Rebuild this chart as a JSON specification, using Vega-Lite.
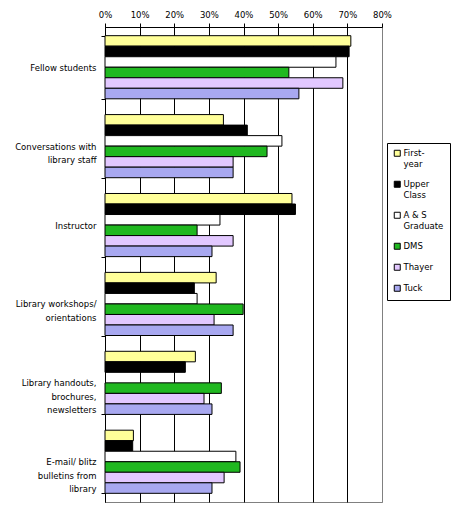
{
  "$schema": "https://vega.github.io/schema/vega-lite/v6.json",
  "width": 277,
  "height": 475,
  "autosize": {"type": "none"},
  "padding": {"left": 105, "top": 27, "right": 72, "bottom": 6},
  "background": "white",
  "config": {
    "view": {"stroke": "#808080", "strokeWidth": 1},
    "font": "DejaVu Sans",
    "axis": {"labelFont": "DejaVu Sans", "labelFontSize": 8.5, "labelColor": "black", "domainColor": "black", "tickColor": "black", "title": null},
    "legend": {"labelFont": "DejaVu Sans", "labelFontSize": 8.5, "labelColor": "black"}
  },
  "data": {
    "values": [
      {"source": "Fellow students", "group": "First-year", "value": 0.71},
      {"source": "Fellow students", "group": "Upper Class", "value": 0.705},
      {"source": "Fellow students", "group": "A & S Graduate", "value": 0.667},
      {"source": "Fellow students", "group": "DMS", "value": 0.531},
      {"source": "Fellow students", "group": "Thayer", "value": 0.687},
      {"source": "Fellow students", "group": "Tuck", "value": 0.56},
      {"source": "Conversations with|library staff", "group": "First-year", "value": 0.342},
      {"source": "Conversations with|library staff", "group": "Upper Class", "value": 0.411},
      {"source": "Conversations with|library staff", "group": "A & S Graduate", "value": 0.511},
      {"source": "Conversations with|library staff", "group": "DMS", "value": 0.468},
      {"source": "Conversations with|library staff", "group": "Thayer", "value": 0.37},
      {"source": "Conversations with|library staff", "group": "Tuck", "value": 0.37},
      {"source": "Instructor", "group": "First-year", "value": 0.54},
      {"source": "Instructor", "group": "Upper Class", "value": 0.55},
      {"source": "Instructor", "group": "A & S Graduate", "value": 0.332},
      {"source": "Instructor", "group": "DMS", "value": 0.266},
      {"source": "Instructor", "group": "Thayer", "value": 0.37},
      {"source": "Instructor", "group": "Tuck", "value": 0.309},
      {"source": "Library workshops/|orientations", "group": "First-year", "value": 0.321},
      {"source": "Library workshops/|orientations", "group": "Upper Class", "value": 0.258},
      {"source": "Library workshops/|orientations", "group": "A & S Graduate", "value": 0.266},
      {"source": "Library workshops/|orientations", "group": "DMS", "value": 0.399},
      {"source": "Library workshops/|orientations", "group": "Thayer", "value": 0.315},
      {"source": "Library workshops/|orientations", "group": "Tuck", "value": 0.37},
      {"source": "Library handouts,|brochures,|newsletters", "group": "First-year", "value": 0.261},
      {"source": "Library handouts,|brochures,|newsletters", "group": "Upper Class", "value": 0.232},
      {"source": "Library handouts,|brochures,|newsletters", "group": "DMS", "value": 0.336},
      {"source": "Library handouts,|brochures,|newsletters", "group": "Thayer", "value": 0.286},
      {"source": "Library handouts,|brochures,|newsletters", "group": "Tuck", "value": 0.309},
      {"source": "E-mail/ blitz|bulletins from|library", "group": "First-year", "value": 0.082},
      {"source": "E-mail/ blitz|bulletins from|library", "group": "Upper Class", "value": 0.08},
      {"source": "E-mail/ blitz|bulletins from|library", "group": "A & S Graduate", "value": 0.378},
      {"source": "E-mail/ blitz|bulletins from|library", "group": "DMS", "value": 0.39},
      {"source": "E-mail/ blitz|bulletins from|library", "group": "Thayer", "value": 0.344},
      {"source": "E-mail/ blitz|bulletins from|library", "group": "Tuck", "value": 0.309}
    ]
  },
  "mark": {"type": "bar", "stroke": "black", "strokeWidth": 1},
  "encoding": {
    "y": {
      "field": "source",
      "type": "nominal",
      "sort": null,
      "scale": {"paddingInner": 0.2, "paddingOuter": 0.11},
      "axis": {
        "orient": "left",
        "tickBand": "extent",
        "tickSize": 4,
        "labelExpr": "split(datum.label, '|')",
        "labelLineHeight": 13.3,
        "labelLimit": 200,
        "labelPadding": 5
      }
    },
    "yOffset": {
      "field": "group",
      "type": "nominal",
      "scale": {"domain": ["First-year", "Upper Class", "A & S Graduate", "DMS", "Thayer", "Tuck"]}
    },
    "x": {
      "field": "value",
      "type": "quantitative",
      "scale": {"domain": [0, 0.8], "nice": false},
      "axis": {
        "orient": "top",
        "values": [0, 0.1, 0.2, 0.3, 0.4, 0.5, 0.6, 0.7, 0.8],
        "format": ".0%",
        "grid": true,
        "gridColor": {"condition": {"test": "datum.value >= 0.8", "value": "#808080"}, "value": "black"},
        "gridOpacity": 1,
        "tickSize": 4,
        "labelPadding": 4,
        "labelFlush": false
      }
    },
    "color": {
      "field": "group",
      "type": "nominal",
      "scale": {
        "domain": ["First-year", "Upper Class", "A & S Graduate", "DMS", "Thayer", "Tuck"],
        "range": ["#ffff99", "#000000", "#ffffff", "#20b820", "#e2c8ff", "#a8a8f0"]
      },
      "legend": {
        "title": null,
        "orient": "none",
        "legendX": 282,
        "legendY": 116,
        "strokeColor": "black",
        "fillColor": "white",
        "padding": 6,
        "symbolType": "square",
        "symbolSize": 36,
        "symbolStrokeColor": "black",
        "symbolStrokeWidth": 1,
        "labelLimit": 100,
        "labelOffset": 2,
        "rowPadding": 10,
        "labelExpr": "datum.label == 'First-year' ? ['First-', 'year'] : datum.label == 'Upper Class' ? ['Upper', 'Class'] : datum.label == 'A & S Graduate' ? ['A & S', 'Graduate'] : datum.label"
      }
    }
  }
}
